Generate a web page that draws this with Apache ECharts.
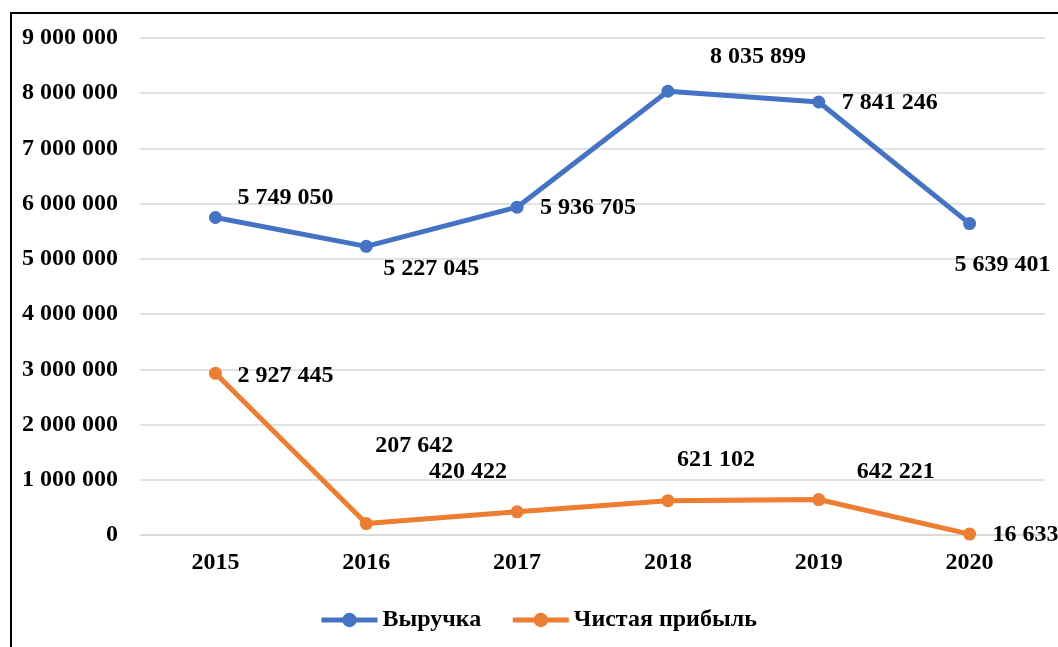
<!DOCTYPE html>
<html>
<head>
<meta charset="utf-8">
<script src="https://cdn.jsdelivr.net/npm/echarts@6/dist/echarts.min.js"></script>
<style>
  html, body { margin:0; padding:0; background:#fff; overflow:hidden; }
  #frame { position:absolute; left:10px; top:12px; width:1100px; height:700px; border:2px solid #000; }
  #box { position:absolute; left:0; top:0; width:1058px; height:647px; }
</style>
</head>
<body>
<div id="frame"></div>
<div id="box"></div>
<script>
// данные
var years = ['2015', '2016', '2017', '2018', '2019', '2020'];
var revenue = [5749050, 5227045, 5936705, 8035899, 7841246, 5639401];
var profit = [2927445, 207642, 420422, 621102, 642221, 16633];
var seriesNames = ['Выручка', 'Чистая прибыль'];

// смещения подписей от точек (только оформление)
var revenueLabelOffsets = [[70,-20],[65,22],[71,1],[90,-34],[71,1],[33,41]];
var profitLabelOffsets = [[70,2],[48,-78],[-49,-40],[48,-41],[77,-28],[56,1]];

var font = '"Liberation Serif", "Times New Roman", serif';

function fmt(v) {
  return String(v).replace(/\B(?=(\d{3})+(?!\d))/g, ' ');
}

function withLabels(values, offsets) {
  return values.map(function (v, i) {
    return { value: v, label: { position: 'inside', offset: offsets[i] } };
  });
}

function lineSeries(name, values, offsets, color) {
  return {
    name: name,
    type: 'line',
    symbol: 'circle',
    symbolSize: 13,
    color: color,
    lineStyle: { width: 5, color: color },
    itemStyle: { color: color },
    label: {
      show: true,
      color: '#000',
      fontFamily: font,
      fontWeight: 'bold',
      fontSize: 24,
      formatter: function (p) { return fmt(p.value); }
    },
    emphasis: { disabled: true },
    data: withLabels(values, offsets)
  };
}

var myChart = echarts.init(document.getElementById('box'), null, { renderer: 'canvas' });
var option = {
  backgroundColor: 'transparent',
  animation: false,
  grid: { left: 140, right: 13, top: 38, bottom: 112, containLabel: false, outerBoundsMode: 'none' },
  legend: {
    data: seriesNames,
    top: 603,
    left: 314,
    itemWidth: 56,
    itemHeight: 18,
    itemGap: 29,
    lineStyle: { width: 5 },
    textStyle: { fontFamily: font, fontWeight: 'bold', fontSize: 24, color: '#000' }
  },
  xAxis: {
    type: 'category',
    data: years,
    boundaryGap: true,
    axisLine: { lineStyle: { color: '#d9d9d9', width: 1.5 } },
    axisTick: { show: false },
    axisLabel: { margin: 16, fontFamily: font, fontWeight: 'bold', fontSize: 24, color: '#000' }
  },
  yAxis: {
    type: 'value',
    min: 0,
    max: 9000000,
    interval: 1000000,
    axisLine: { show: false },
    axisTick: { show: false },
    splitLine: { lineStyle: { color: '#d9d9d9', width: 1.5 } },
    axisLabel: {
      margin: 22,
      fontFamily: font, fontWeight: 'bold', fontSize: 24, color: '#000',
      formatter: function (v) { return fmt(v); }
    }
  },
  series: [
    lineSeries(seriesNames[0], revenue, revenueLabelOffsets, '#4472C4'),
    lineSeries(seriesNames[1], profit, profitLabelOffsets, '#ED7D31')
  ]
};
myChart.setOption(option);
</script>
</body>
</html>
